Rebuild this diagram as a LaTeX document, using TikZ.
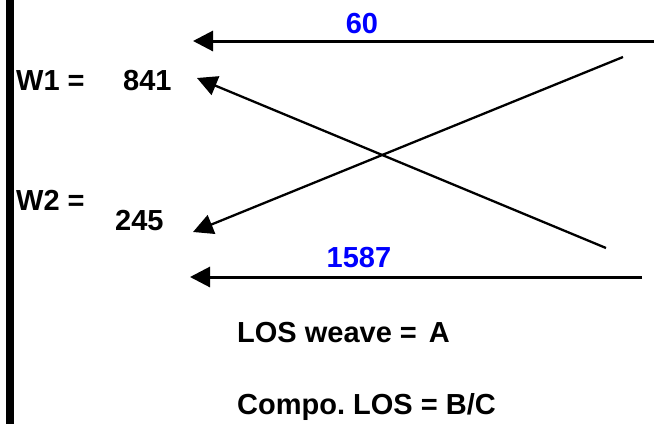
\documentclass[tikz,border=0pt]{standalone}
\usepackage{fontspec}
\setmainfont{Liberation Sans}
\usetikzlibrary{arrows.meta}
\frenchspacing
\begin{document}
\begin{tikzpicture}[x=1pt,y=-1pt]
\tikzstyle{every node}+=[inner sep=0pt, font=\bfseries\fontsize{29}{35}\selectfont]
\tikzstyle{val}=[text=blue]
\tikzstyle{arr}=[-{Triangle[length=20pt,width=20pt]}]
\useasboundingbox (0,0) rectangle (654,424);
\fill [black] (6,0) rectangle (14,424);
% weights
\node [anchor=base west] (w1) at (16,90) {W1 =};
\node [anchor=base west] (n841) at (123,90) {841};
\node [anchor=base west] (w2) at (16,210) {W2 =};
\node [anchor=base west] (n245) at (115,230) {245};
% arrow ends
\coordinate (topR) at (654,41);
\coordinate (topL) at (193,41);
\coordinate (botR) at (642,277);
\coordinate (botL) at (190,277);
\coordinate (upR) at (623,57);
\coordinate (upL) at (193,232);
\coordinate (dnR) at (606,248);
\coordinate (dnL) at (197,78);
\draw [arr, line width=3pt] (topR) -- (topL);
\draw [arr, line width=3pt] (botR) -- (botL);
\draw [arr, line width=2.3pt] (upR) -- (upL);
\draw [arr, line width=2.3pt] (dnR) -- (dnL);
\node [val, anchor=base] (l60) at (362,33) {60};
\node [val, anchor=base] (l1587) at (359,267) {1587};
% results
\node [anchor=base west] (weave) at (237,342) {LOS weave =\hspace{4pt} A};
\node [anchor=base west] (compo) at (237,414) {Compo. LOS = B/C};
\end{tikzpicture}
\end{document}
